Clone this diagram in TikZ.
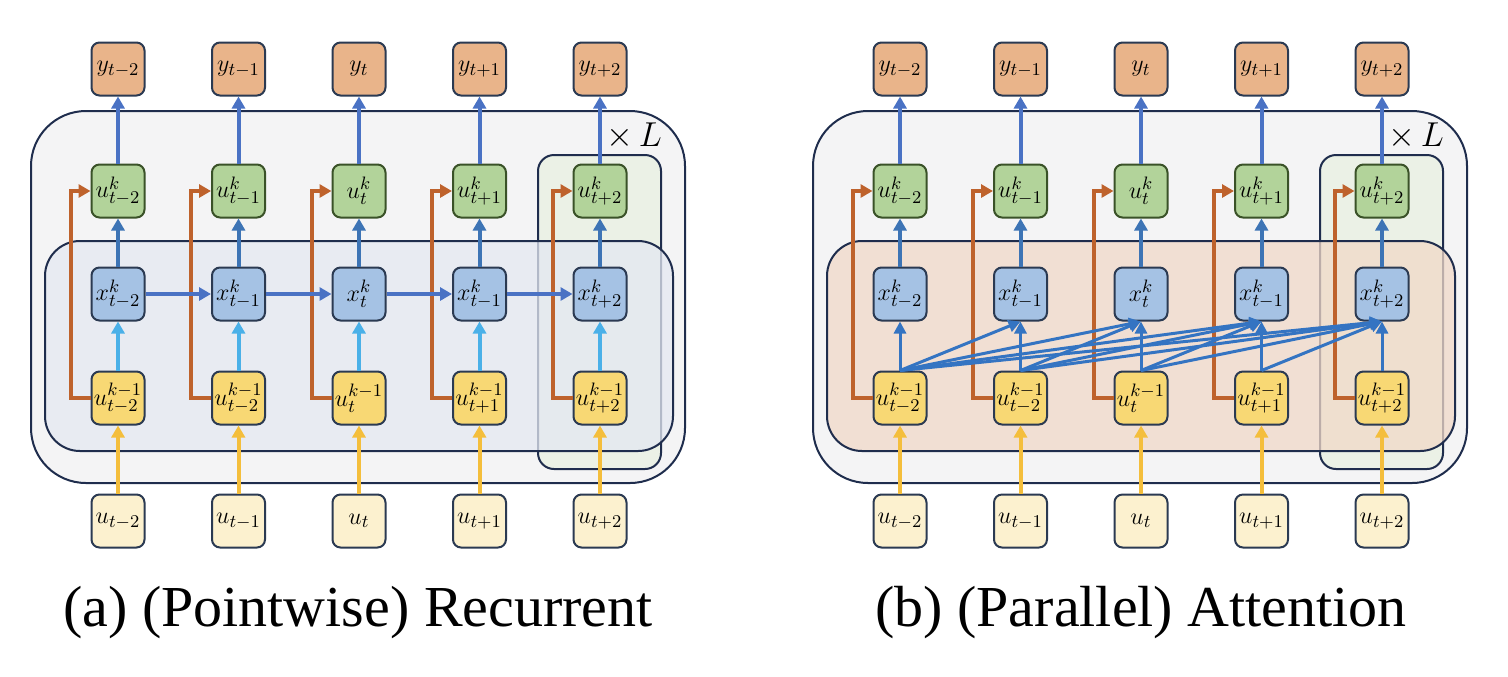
\documentclass[tikz,border=0pt]{standalone}
\usepackage{fontspec}
\setmainfont{Liberation Serif}
\usetikzlibrary{arrows.meta}
\definecolor{outerfill}{HTML}{F4F4F5}
\definecolor{frame}{HTML}{1F2D4D}
\definecolor{tilefill}{HTML}{EBF1E6}
\definecolor{innerA}{HTML}{E4E8F2}
\definecolor{innerB}{HTML}{F1D9C8}
\definecolor{yfill}{HTML}{E9B48A}
\definecolor{gfill}{HTML}{B2D39A}
\definecolor{gdraw}{HTML}{3A5228}
\definecolor{xfill}{HTML}{A5C2E4}
\definecolor{kfill}{HTML}{F8D874}
\definecolor{ifill}{HTML}{FCF1CF}
\definecolor{boxdraw}{HTML}{2B3A52}
\definecolor{arrblue}{HTML}{4A72C4}
\definecolor{arrblueB}{HTML}{3D74B5}
\definecolor{arrlight}{HTML}{4AB0E8}
\definecolor{arryellow}{HTML}{F4BE3C}
\definecolor{arrorange}{HTML}{BE622C}
\definecolor{attn}{HTML}{3474C2}
\tikzset{
  cell/.style={minimum width=26.5pt, minimum height=26.5pt, inner sep=0pt, rounded corners=4pt, line width=1pt, draw=boxdraw, font=\fontsize{12.5}{14}\selectfont},
  ycell/.style={cell, fill=yfill},
  gcell/.style={cell, fill=gfill, draw=gdraw},
  xcell/.style={cell, fill=xfill},
  kcell/.style={cell, fill=kfill},
  icell/.style={cell, fill=ifill},
  arr/.style={line width=2pt, -{Triangle[length=6pt,width=6.5pt]}},
  toparr/.style={arr, arrblue},
  midarr/.style={arr, arrblueB},
  lowarr/.style={arr, arrlight},
  inarr/.style={arr, arryellow},
  resarr/.style={arr, arrorange},
  recarr/.style={arr, arrblue},
  attarr/.style={line width=1.5pt, attn, -{Triangle[length=6pt,width=6pt]}},
  outerbox/.style={draw=frame, fill=outerfill, line width=1pt, rounded corners=27.5pt},
  tilebox/.style={draw=frame, fill=tilefill, line width=1pt, rounded corners=8pt},
  innerbox/.style={draw=frame, line width=1pt, rounded corners=17.5pt, fill opacity=0.75},
  caption/.style={font=\fontsize{29}{34}\selectfont},
}
\begin{document}
\begin{tikzpicture}[x=0.5pt,y=-0.5pt]
\useasboundingbox (0,0) rectangle (1508,676);
\foreach \p/\off/\inn in {a/0/innerA, b/782/innerB} {
  \draw[outerbox] (31+\off,111) rectangle (685+\off,483);
  \draw[tilebox] (538+\off,155) rectangle (661+\off,469);
  \draw[innerbox, fill=\inn] (45+\off,241) rectangle (673+\off,451);
  \node (L\p) at (634+\off,136) {\fontsize{18}{20}\selectfont$\times\,L$};
  \foreach \i/\s/\xs/\ks in {1/t-2/t-2/t-2, 2/t-1/t-1/t-2, 3/t/t/t, 4/t+1/t-1/t+1, 5/t+2/t+2/t+2} {
    \pgfmathsetmacro\cx{118+120.5*(\i-1)+\off}
    \node[ycell] (y\p\i) at (\cx,69) {$y_{\s}$};
    \node[gcell] (g\p\i) at (\cx,191) {$u^{k}_{\s}$};
    \node[xcell] (x\p\i) at (\cx,294) {$x^{k}_{\xs}$};
    \node[kcell] (k\p\i) at (\cx,398) {$u^{k-1}_{\ks}$};
    \node[icell] (i\p\i) at (\cx,521) {$u_{\s}$};
  }
}
\node[caption] (capa) at (358,613) {(a) (Pointwise) Recurrent};
\node[caption] (capb) at (1141,613) {(b) (Parallel) Attention};
% arrows
\foreach \p in {a,b} {
  \foreach \i in {1,...,5} {
    \draw[toparr] (g\p\i.north) -- (y\p\i.south);
    \draw[midarr] (x\p\i.north) -- (g\p\i.south);
    \draw[inarr] (i\p\i.north) -- (k\p\i.south);
    \draw[resarr] (k\p\i.west) -- ++(-20,0) |- (g\p\i.west);
  }
}
\foreach \i in {1,...,5} {
  \draw[lowarr] (ka\i.north) -- (xa\i.south);
}
\foreach \i/\j in {1/2,2/3,3/4,4/5} {
  \draw[recarr] (xa\i.east) -- (xa\j.west);
}
\foreach \i in {1,...,5} {
  \foreach \j in {\i,...,5} {
    \draw[attarr] (kb\i.north) -- (xb\j.south);
  }
}
\end{tikzpicture}
\end{document}
